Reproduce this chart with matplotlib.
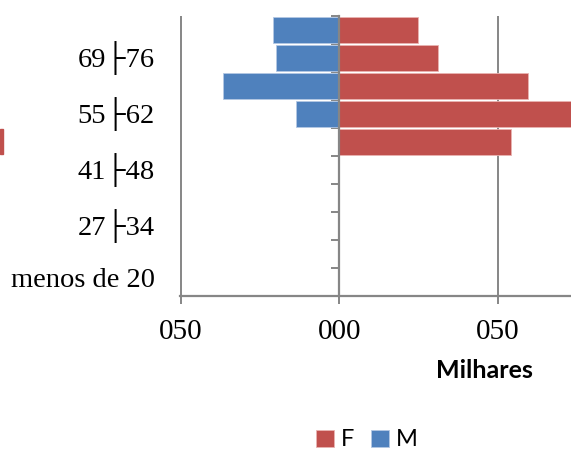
import numpy as np
import matplotlib
matplotlib.use("Agg")
import matplotlib.pyplot as plt
import matplotlib.transforms as mtransforms
from matplotlib.patches import Rectangle
from matplotlib.ticker import FuncFormatter, FixedLocator

# faixas etarias (de baixo para cima), valores em milhares
faixas = ["menos de 20", "20├27", "27├34", "34├41", "41├48",
          "48├55", "55├62", "62├69", "69├76", "76├83"]
masculino = [0, 0, 0, 0, 0, 0, 13.6, 36.8, 20.1, 21.0]
feminino = [0, 0, 0, 0, 0, 54.1, 80.0, 59.3, 31.1, 24.9]
x_ticks = [-50, 0, 50, 100]

RED = "#C0504D"
BLUE = "#4F81BD"
GRAY = "#868686"
SERIF = ["Liberation Serif", "DejaVu Sans"]

fig = plt.figure(figsize=(5.71, 4.51), dpi=100)
ax = fig.add_axes([180 / 571, 1 - 295.7 / 451, 1 - 180 / 571, (295.7 - 15.7) / 451])

y = np.arange(len(faixas))
ax.barh(y, feminino, height=0.92, color=RED, edgecolor="#e9b3b1", linewidth=0.6, label="F")
ax.barh(y, -np.array(masculino), height=0.92, color=BLUE, edgecolor="#b4c8e4", linewidth=0.6, label="M")

ax.set_xlim(-50.2, 73)
ax.set_ylim(-0.5, len(faixas) - 0.5)

# eixo das categorias passando pelo zero
for s in ["top", "right"]:
    ax.spines[s].set_visible(False)
ax.spines["left"].set_position(("data", 0))
ax.spines["left"].set_color(GRAY)
ax.spines["left"].set_linewidth(1.6)
ax.spines["bottom"].set_color(GRAY)
ax.spines["bottom"].set_linewidth(1.6)

ax.yaxis.set_major_locator(FixedLocator(y[::2]))
ax.set_yticklabels([faixas[i] for i in y[::2]], family=SERIF, fontsize=20.5,
                   va="center_baseline")
ax.yaxis.set_minor_locator(FixedLocator(np.arange(len(faixas) + 1) - 0.5))
ax.tick_params(axis="y", which="major", length=0, pad=133)
ax.tick_params(axis="y", which="minor", length=6, width=1.4, color=GRAY, direction="out")

# sobe um pouco os rotulos para centrar os digitos na faixa
shift = mtransforms.ScaledTranslation(0, 4 / 100, fig.dpi_scale_trans)
for t in ax.yaxis.get_major_ticks():
    t.label1.set_transform(t.label1.get_transform() + shift)

ax.xaxis.set_major_locator(FixedLocator(x_ticks))
ax.xaxis.set_major_formatter(FuncFormatter(lambda v, p: f"{abs(int(v)):03d}"))
ax.tick_params(axis="x", length=6, width=1.4, color=GRAY, pad=11, labelsize=21)
for lab in ax.get_xticklabels():
    lab.set_family(SERIF)

ax.grid(axis="x", color=GRAY, linewidth=1.4)
ax.set_axisbelow(True)

fig.text(484 / 571, 1 - 370 / 451, "Milhares", ha="center", va="center",
         fontsize=18, fontweight="bold", family="Lato")

fig.legend(loc="center", bbox_to_anchor=(367 / 571, 1 - 440 / 451), ncol=2,
           frameon=False, handlelength=0.75, handleheight=0.75, handletextpad=0.3,
           columnspacing=0.7, prop={"family": "Lato", "size": 17})

# pedaço de elemento cortado na borda esquerda
fig.patches.append(Rectangle((0, 1 - 154 / 451), 2.5 / 571, 25 / 451,
                             transform=fig.transFigure, color=RED))

fig.savefig("out.png", dpi=100)
